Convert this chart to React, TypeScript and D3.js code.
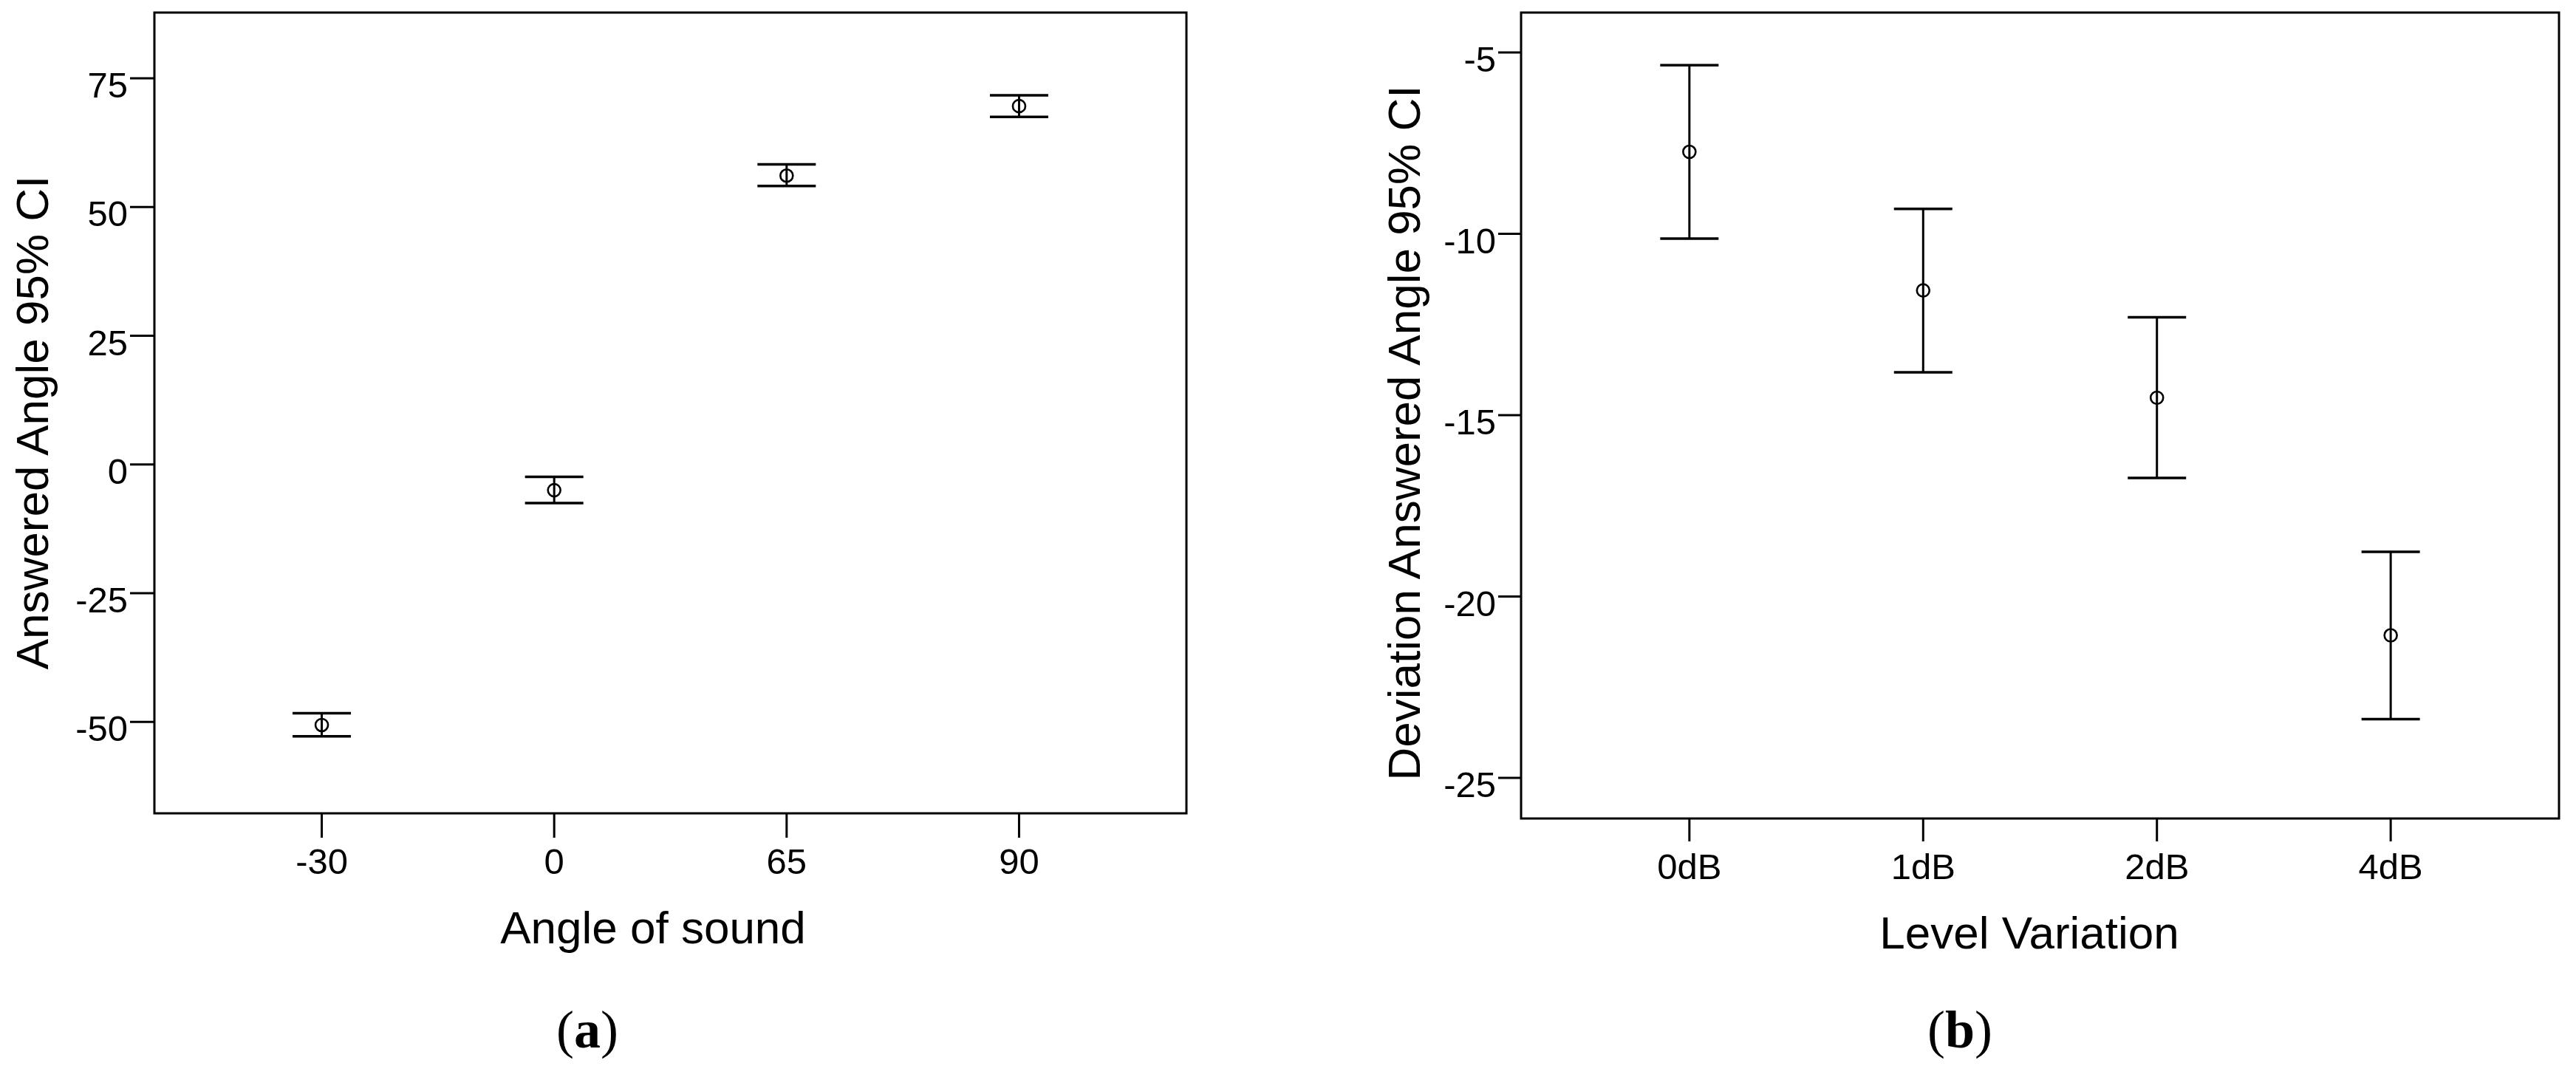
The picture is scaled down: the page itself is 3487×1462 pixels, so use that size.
import React from "react";
import * as d3 from "d3";

const angleCategories = ["-30", "0", "65", "90"];
const angleMeans = [-50.6, -5.0, 56.1, 69.6];
const angleLower = [-52.8, -7.5, 54.1, 67.5];
const angleUpper = [-48.3, -2.4, 58.3, 71.7];
const angleTicks = [-50, -25, 0, 25, 50, 75];

const levelCategories = ["0dB", "1dB", "2dB", "4dB"];
const levelMeans = [-7.74, -11.56, -14.52, -21.07];
const levelLower = [-10.13, -13.82, -16.73, -23.38];
const levelUpper = [-5.35, -9.31, -12.3, -18.77];
const levelTicks = [-25, -20, -15, -10, -5];

const SANS = "'Liberation Sans', Arial, Helvetica, sans-serif";
const SERIF = "'Liberation Serif', 'Times New Roman', serif";

type PanelProps = {
  categories: string[];
  means: number[];
  lower: number[];
  upper: number[];
  ticks: number[];
  yDomain: [number, number];
  box: { x0: number; x1: number; y0: number; y1: number };
  tickLen: number;
  xTitle: string;
  yTitle: string;
  xTitleX: number;
  yTitleX: number;
  yTitleY: number;
  capLabel: string;
  capX: number;
};

function Panel(p: PanelProps) {
  const { box } = p;
  const x = d3.scalePoint<string>().domain(p.categories).range([box.x0, box.x1]).padding(0.72);
  const y = d3.scaleLinear().domain(p.yDomain).range([box.y1, box.y0]);
  const data = p.categories.map((c, i) => ({ c, m: p.means[i], lo: p.lower[i], hi: p.upper[i] }));
  const capHalf = 39.5;
  return (
    <g>
      <rect x={box.x0} y={box.y0} width={box.x1 - box.x0} height={box.y1 - box.y0} fill="none" stroke="#000" strokeWidth={3} />
      {p.ticks.map((t) => (
        <g key={"y" + t}>
          <line x1={box.x0 - p.tickLen} x2={box.x0} y1={y(t)} y2={y(t)} stroke="#000" strokeWidth={3} />
          <text x={box.x0 - p.tickLen - 3} y={y(t) + 26} textAnchor="end" fontFamily={SANS} fontSize={49} fill="#000">
            {String(t)}
          </text>
        </g>
      ))}
      {p.categories.map((c) => (
        <g key={"x" + c}>
          <line x1={x(c)} x2={x(c)} y1={box.y1} y2={box.y1 + p.tickLen} stroke="#000" strokeWidth={3} />
          <text x={x(c)} y={box.y1 + 82} textAnchor="middle" fontFamily={SANS} fontSize={49} fill="#000">
            {c}
          </text>
        </g>
      ))}
      {data.map((d) => (
        <g key={"e" + d.c}>
          <line x1={x(d.c)} x2={x(d.c)} y1={y(d.hi)} y2={y(d.lo)} stroke="#000" strokeWidth={3} />
          <line x1={x(d.c)! - capHalf} x2={x(d.c)! + capHalf} y1={y(d.hi)} y2={y(d.hi)} stroke="#000" strokeWidth={3.5} />
          <line x1={x(d.c)! - capHalf} x2={x(d.c)! + capHalf} y1={y(d.lo)} y2={y(d.lo)} stroke="#000" strokeWidth={3.5} />
          <circle cx={x(d.c)} cy={y(d.m)} r={8.5} fill="none" stroke="#000" strokeWidth={2.6} />
        </g>
      ))}
      <text x={p.xTitleX} y={box.y1 + 176} textAnchor="middle" fontFamily={SANS} fontSize={62} fill="#000">
        {p.xTitle}
      </text>
      <text
        transform={`translate(${p.yTitleX},${p.yTitleY}) rotate(-90)`}
        textAnchor="middle"
        fontFamily={SANS}
        fontSize={62}
        fill="#000"
      >
        {p.yTitle}
      </text>
      <text x={p.capX} y={1418} textAnchor="middle" fontFamily={SERIF} fontSize={72} fill="#000">
        (<tspan fontWeight="bold">{p.capLabel}</tspan>)
      </text>
    </g>
  );
}

export default function App() {
  return (
    <svg
      width={3487}
      height={1462}
      viewBox="0 0 3487 1462"
      style={{ position: "absolute", left: 0, top: 0, background: "#fff" }}
    >
      <rect x={0} y={0} width={3487} height={1462} fill="#fff" />
      <Panel
        categories={angleCategories}
        means={angleMeans}
        lower={angleLower}
        upper={angleUpper}
        ticks={angleTicks}
        yDomain={[-67.75, 87.77]}
        box={{ x0: 209, x1: 1606, y0: 17, y1: 1101 }}
        tickLen={33}
        xTitle="Angle of sound"
        yTitle="Answered Angle 95% CI"
        xTitleX={884}
        yTitleX={65}
        yTitleY={572}
        capLabel="a"
        capX={795}
      />
      <Panel
        categories={levelCategories}
        means={levelMeans}
        lower={levelLower}
        upper={levelUpper}
        ticks={levelTicks}
        yDomain={[-26.12, -3.9]}
        box={{ x0: 2059, x1: 3464, y0: 17, y1: 1108 }}
        tickLen={31}
        xTitle="Level Variation"
        yTitle="Deviation Answered Angle 95% CI"
        xTitleX={2747}
        yTitleX={1922}
        yTitleY={586}
        capLabel="b"
        capX={2653}
      />
    </svg>
  );
}
